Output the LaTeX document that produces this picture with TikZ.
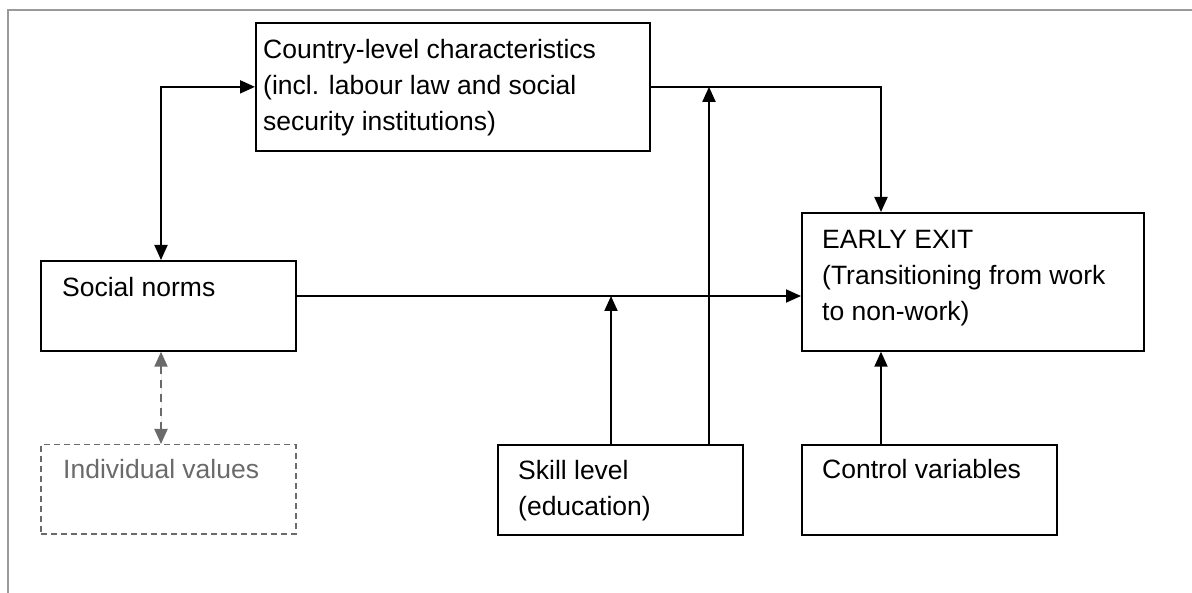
\documentclass[tikz,border=0pt]{standalone}
\usepackage{fontspec}
\setmainfont{Liberation Sans}
\usetikzlibrary{arrows.meta}
\usetikzlibrary{calc}

\definecolor{framegray}{HTML}{9A9A9A}
\definecolor{valgray}{HTML}{6A6A6A}

\tikzset{
	box/.style={draw,line width=1.7pt,anchor=north west,inner sep=0pt},
	dbox/.style={draw=valgray,line width=1.5pt,dashed,dash pattern=on 6pt off 4pt,anchor=north west,inner sep=0pt},
	txt/.style={anchor=north west,inner sep=0pt,align=left,font=\fontsize{26.5}{36}\selectfont},
	arr/.style={line width=1.9pt},
	frame/.style={draw=framegray,line width=1.8pt}
}

\begin{document}
\begin{tikzpicture}[x=1pt,y=-1pt,>/.tip={Triangle[length=15pt,width=13pt]}]
	\useasboundingbox (0,0) rectangle (1192,593);
	\draw[frame] (8,593) -- (8,10) -- (1192,10);
	% boxes
	\node (country) [box,minimum width=394pt,minimum height=128pt] at (255,22) {};
	\node (countrytext) [txt] at (263,38.7) {Country-level characteristics\\(incl. labour law and social\\security institutions)};
	\node (social) [box,minimum width=255pt,minimum height=90pt] at (40,260) {};
	\node (socialtext) [txt] at (62,276.7) {Social norms};
	\node (values) [dbox,minimum width=255pt,minimum height=89pt] at (40,444) {};
	\node (valuestext) [txt,text=valgray] at (63,459.2) {Individual values};
	\node (exit) [box,minimum width=342pt,minimum height=138pt] at (801,212) {};
	\node (exittext) [txt] at (822,229.7) {EARLY EXIT\\(Transitioning from work\\to non-work)};
	\node (skill) [box,minimum width=245pt,minimum height=90pt] at (497,444) {};
	\node (skilltext) [txt] at (518,459.7) {Skill level\\(education)};
	\node (control) [box,minimum width=255pt,minimum height=90pt] at (801,444) {};
	\node (controltext) [txt] at (822,459.2) {Control variables};
	% connectors
	\coordinate (mid) at (0,296);
	\draw[arr,<->] ([xshift=121pt]social.north west) |- (country.west);
	\draw[arr,->] (country.east) -| ([xshift=80pt]exit.north west);
	\draw[arr,->] (social.east |- mid) -- (exit.west |- mid);
	\draw[arr,->] ([xshift=114pt]skill.north west) -- ([xshift=114pt]skill.north west |- mid);
	\draw[arr,->] ([xshift=212pt]skill.north west) -- ([xshift=212pt]skill.north west |- country.east);
	\draw[arr,->] ([xshift=80pt]control.north west) -- ([xshift=80pt]exit.south west);
	\draw[arr,<->,draw=valgray,fill=valgray,dashed,dash pattern=on 8pt off 6pt] ([xshift=121pt]social.south west) -- ([xshift=121pt]values.north west);
\end{tikzpicture}
\end{document}
